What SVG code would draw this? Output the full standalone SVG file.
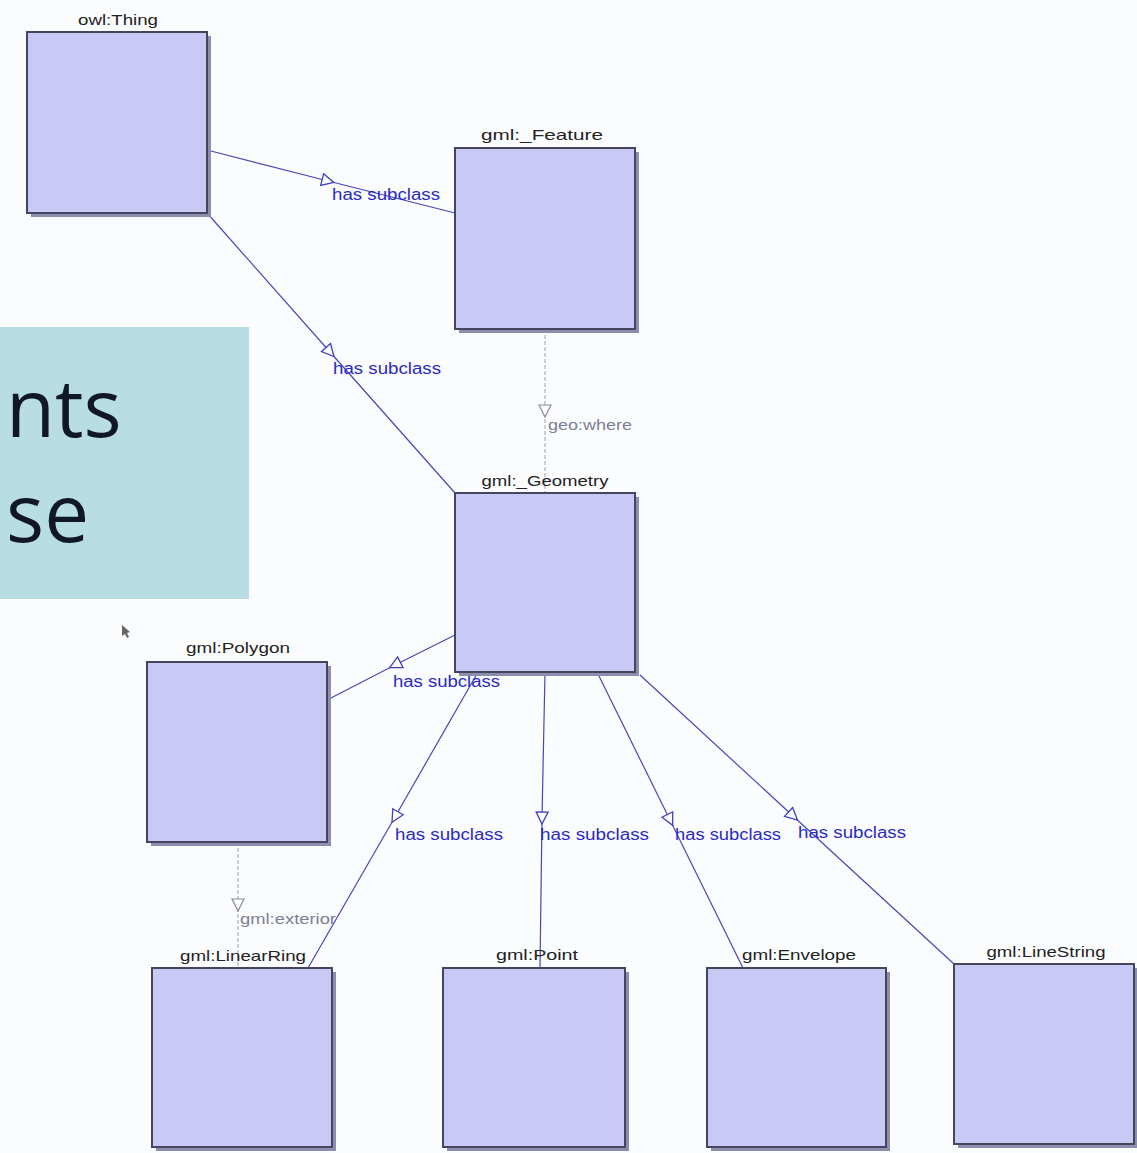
<svg xmlns="http://www.w3.org/2000/svg" width="1137" height="1153" viewBox="0 0 1137 1153">
<style>
.box{fill:#c9c9f6;stroke:#45455e;stroke-width:2}
.shadow{fill:#8d8db0}
.nlabel{font-family:"Liberation Sans",Arial,sans-serif;font-size:15px;fill:#222;text-anchor:middle}
.elabel{font-family:"Liberation Sans",Arial,sans-serif;font-size:16px;fill:#2a2ac4}
.plabel{font-family:"Liberation Sans",Arial,sans-serif;font-size:15px;fill:#7d7d95}
.sub{fill:none;stroke:#4747b8;stroke-width:1.2}
.prop{fill:none;stroke:#a0a0a8;stroke-width:1;stroke-dasharray:4 2}
.big{font-family:"Open Sans","Noto Sans",sans-serif;font-size:80px;fill:#101828}
</style>
<defs>
<marker id="tri" viewBox="0 0 14 14" refX="7" refY="7" markerWidth="14" markerHeight="14" markerUnits="userSpaceOnUse" orient="auto">
<path d="M1,1 L13,7 L1,13 z" fill="#fbfcfd" stroke="#4040c0" stroke-width="1.3"/>
</marker>
<marker id="trig" viewBox="0 0 14 14" refX="7" refY="7" markerWidth="14" markerHeight="14" markerUnits="userSpaceOnUse" orient="auto">
<path d="M1,1 L13,7 L1,13 z" fill="#fbfcfd" stroke="#8a8a96" stroke-width="1.2"/>
</marker>
</defs>
<rect x="0" y="0" width="1137" height="1153" fill="#fbfcfd"/>
<g id="teal-panel">
<rect x="0" y="327" width="249" height="272" fill="#b8dde3"/>
<text class="big" x="6" y="437">nts</text>
<text class="big" x="6" y="542">se</text>
</g>
<g id="cursor">
<path d="M122,625 L130,632 L127,633 L129,637 L127,638 L125,634 L122,636 z" fill="#666"/>
</g>
<g id="connectors">
<path class="sub" d="M207,150 L328,181 L455,213" marker-mid="url(#tri)"/>
<path class="sub" d="M207,213 L330,352 L455,493" marker-mid="url(#tri)"/>
<path class="prop" d="M545,329 L545,411 L545,493" marker-mid="url(#trig)"/>
<path class="sub" d="M455,635 L395,665 L327,700" marker-mid="url(#tri)"/>
<path class="sub" d="M478,672 L395,817 L308,968" marker-mid="url(#tri)"/>
<path class="sub" d="M545,672 L542,818 L540,968" marker-mid="url(#tri)"/>
<path class="sub" d="M597,672 L670,820 L743,968" marker-mid="url(#tri)"/>
<path class="sub" d="M640,675 L793,816 L954,964" marker-mid="url(#tri)"/>
<path class="prop" d="M238,842 L238,905 L238,968" marker-mid="url(#trig)"/>
<text class="elabel" x="332" y="200" textLength="108" lengthAdjust="spacingAndGlyphs">has subclass</text>
<text class="elabel" x="333" y="374" textLength="108" lengthAdjust="spacingAndGlyphs">has subclass</text>
<text class="plabel" x="548" y="430" textLength="84" lengthAdjust="spacingAndGlyphs">geo:where</text>
<text class="elabel" x="393" y="687" textLength="107" lengthAdjust="spacingAndGlyphs">has subclass</text>
<text class="elabel" x="395" y="840" textLength="108" lengthAdjust="spacingAndGlyphs">has subclass</text>
<text class="elabel" x="540" y="840" textLength="109" lengthAdjust="spacingAndGlyphs">has subclass</text>
<text class="elabel" x="675" y="840" textLength="106" lengthAdjust="spacingAndGlyphs">has subclass</text>
<text class="elabel" x="798" y="838" textLength="108" lengthAdjust="spacingAndGlyphs">has subclass</text>
<text class="plabel" x="240" y="924" textLength="96" lengthAdjust="spacingAndGlyphs">gml:exterior</text>
</g>
<g id="owl-Thing">
<rect class="shadow" x="31" y="36" width="180" height="181"/>
<rect class="box" x="27" y="32" width="180" height="181"/>
<text class="nlabel" x="118" y="25" textLength="80" lengthAdjust="spacingAndGlyphs">owl:Thing</text>
</g>
<g id="gml-Feature">
<rect class="shadow" x="459" y="152" width="180" height="181"/>
<rect class="box" x="455" y="148" width="180" height="181"/>
<text class="nlabel" x="542" y="140" textLength="122" lengthAdjust="spacingAndGlyphs">gml:_Feature</text>
</g>
<g id="gml-Geometry">
<rect class="shadow" x="459" y="497" width="180" height="179"/>
<rect class="box" x="455" y="493" width="180" height="179"/>
<text class="nlabel" x="545" y="486" textLength="127" lengthAdjust="spacingAndGlyphs">gml:_Geometry</text>
</g>
<g id="gml-Polygon">
<rect class="shadow" x="151" y="666" width="180" height="180"/>
<rect class="box" x="147" y="662" width="180" height="180"/>
<text class="nlabel" x="238" y="653" textLength="104" lengthAdjust="spacingAndGlyphs">gml:Polygon</text>
</g>
<g id="gml-LinearRing">
<rect class="shadow" x="156" y="972" width="180" height="179"/>
<rect class="box" x="152" y="968" width="180" height="179"/>
<text class="nlabel" x="243" y="961" textLength="126" lengthAdjust="spacingAndGlyphs">gml:LinearRing</text>
</g>
<g id="gml-Point">
<rect class="shadow" x="447" y="972" width="182" height="179"/>
<rect class="box" x="443" y="968" width="182" height="179"/>
<text class="nlabel" x="537" y="960" textLength="82" lengthAdjust="spacingAndGlyphs">gml:Point</text>
</g>
<g id="gml-Envelope">
<rect class="shadow" x="711" y="972" width="179" height="179"/>
<rect class="box" x="707" y="968" width="179" height="179"/>
<text class="nlabel" x="799" y="960" textLength="114" lengthAdjust="spacingAndGlyphs">gml:Envelope</text>
</g>
<g id="gml-LineString">
<rect class="shadow" x="958" y="968" width="180" height="180"/>
<rect class="box" x="954" y="964" width="180" height="180"/>
<text class="nlabel" x="1046" y="957" textLength="119" lengthAdjust="spacingAndGlyphs">gml:LineString</text>
</g>
</svg>
